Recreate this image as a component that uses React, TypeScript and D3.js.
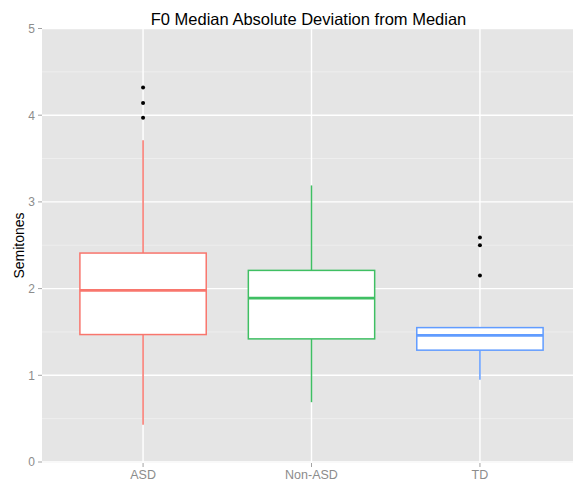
import React from 'react';
import * as d3 from 'd3';

const groups = ['ASD', 'Non-ASD', 'TD'];
const colors = ['#F8766D', '#3FBF63', '#619CFF'];
const lowerWhisker = [0.43, 0.69, 0.95];
const q1 = [1.47, 1.42, 1.29];
const medians = [1.98, 1.89, 1.46];
const q3 = [2.41, 2.21, 1.55];
const upperWhisker = [3.71, 3.19, 1.55];
const outliers = [[3.97, 4.14, 4.32], [], [2.15, 2.5, 2.59]];
const yTicks = [0, 1, 2, 3, 4, 5];
const yMinor = [0.5, 1.5, 2.5, 3.5, 4.5];

const W = 573;
const H = 482;
const panel = { left: 42, top: 28, bottom: 463, right: 581 };

const App = () => {
  // ggplot discrete axis: expansion 0.6 on each side, box width 0.75
  const x = d3.scalePoint<string>()
    .domain(groups)
    .range([panel.left, panel.right])
    .padding(0.6);
  const boxW = x.step() * 0.75;

  const y = d3.scaleLinear().domain([0, 5]).range([462, 28.5]);

  const font = '"Liberation Sans", Arial, sans-serif';
  const tickGrey = '#8C8C8C';

  return (
    <svg width={W} height={H} style={{ display: 'block', position: 'absolute', left: 0, top: 0 }}>
      <defs>
        <clipPath id="panel">
          <rect x={panel.left} y={panel.top} width={panel.right - panel.left} height={panel.bottom - panel.top} />
        </clipPath>
      </defs>
      <rect x={0} y={0} width={W} height={H} fill="white" />
      <g clipPath="url(#panel)">
        <rect x={panel.left} y={panel.top} width={panel.right - panel.left} height={panel.bottom - panel.top} fill="#E5E5E5" />
        {yMinor.map(t => (
          <line key={'m' + t} x1={panel.left} x2={panel.right} y1={y(t)} y2={y(t)} stroke="#F0F0F0" strokeWidth={0.8} />
        ))}
        {yTicks.map(t => (
          <line key={'g' + t} x1={panel.left} x2={panel.right} y1={y(t)} y2={y(t)} stroke="white" strokeWidth={1.4} />
        ))}
        {groups.map(g => (
          <line key={'v' + g} x1={x(g)} x2={x(g)} y1={panel.top} y2={panel.bottom} stroke="white" strokeWidth={1.4} />
        ))}
        {groups.map((g, i) => {
          const cx = x(g) as number;
          return (
            <g key={g} stroke={colors[i]} fill="none">
              <line x1={cx} x2={cx} y1={y(upperWhisker[i])} y2={y(q3[i])} strokeWidth={1.5} />
              <line x1={cx} x2={cx} y1={y(q1[i])} y2={y(lowerWhisker[i])} strokeWidth={1.5} />
              <rect x={cx - boxW / 2} y={y(q3[i])} width={boxW} height={y(q1[i]) - y(q3[i])} fill="white" strokeWidth={1.5} />
              <line x1={cx - boxW / 2} x2={cx + boxW / 2} y1={y(medians[i])} y2={y(medians[i])} strokeWidth={2.6} />
              {outliers[i].map((v, k) => (
                <circle key={k} cx={cx} cy={y(v)} r={2} fill="black" stroke="none" />
              ))}
            </g>
          );
        })}
      </g>
      {yTicks.map(t => (
        <g key={'yt' + t}>
          <line x1={38} x2={panel.left} y1={y(t)} y2={y(t)} stroke={tickGrey} strokeWidth={0.8} />
          <text x={35} y={y(t)} dy="0.36em" textAnchor="end" fontFamily={font} fontSize={12} fill={tickGrey}>{t}</text>
        </g>
      ))}
      {groups.map(g => (
        <g key={'xt' + g}>
          <line x1={x(g)} x2={x(g)} y1={panel.bottom} y2={panel.bottom + 4} stroke={tickGrey} strokeWidth={0.8} />
          <text x={x(g)} y={479} textAnchor="middle" fontFamily={font} fontSize={12.5} fill={tickGrey}>{g}</text>
        </g>
      ))}
      <text transform={`translate(24,${(panel.top + panel.bottom) / 2}) rotate(-90)`} textAnchor="middle" fontFamily={font} fontSize={14} fill="black">Semitones</text>
      <text x={(panel.left + panel.right) / 2 - 3} y={25} textAnchor="middle" fontFamily={font} fontSize={16.5} fill="black">F0 Median Absolute Deviation from Median</text>
    </svg>
  );
};

export default App;
